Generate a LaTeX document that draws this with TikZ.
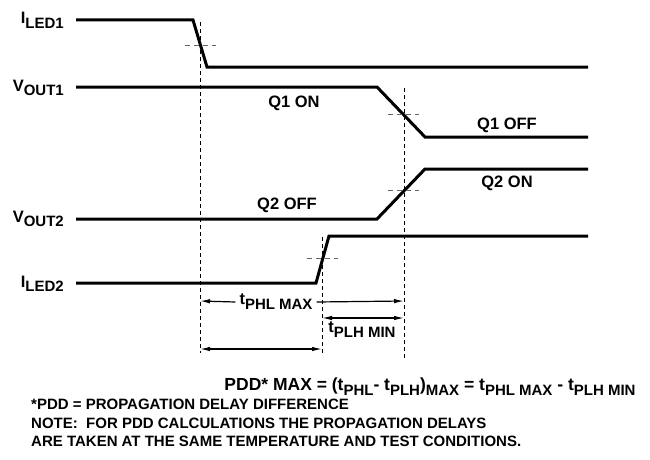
\documentclass[tikz,border=0pt]{standalone}
\usepackage{fontspec}
\setmainfont{Liberation Sans}
\usetikzlibrary{arrows.meta, positioning, calc}
\tikzset{
  % signal traces
  trace/.style={line width=3pt, line join=miter},
  % dashed timing guides
  guide/.style={dash pattern=on 4pt off 3pt, line width=0.8pt},
  threshold/.style={dash pattern=on 5pt off 4pt, line width=0.8pt, black!60},
  % delay arrows
  delay/.style={line width=1.2pt, -{Latex[length=10pt,width=4.5pt]}},
  delayboth/.style={line width=1.2pt, {Latex[length=10pt,width=4.5pt]}-{Latex[length=10pt,width=4.5pt]}},
  % texts
  signame/.style={font=\bfseries\fontsize{16.5}{18}\selectfont, inner sep=0pt, anchor=base east},
  statelbl/.style={font=\bfseries\fontsize{16.5}{18}\selectfont, inner sep=1pt},
  formula/.style={font=\bfseries\fontsize{17.5}{19}\selectfont, inner sep=0pt},
  notetext/.style={font=\bfseries\fontsize{15}{18.6}\selectfont, align=left, inner sep=0pt}
}
\newcommand{\subtx}[1]{\raisebox{-0.3em}{\fontsize{15}{16}\selectfont #1}}

\begin{document}
\begin{tikzpicture}[x=1pt, y=-1pt]
  \useasboundingbox (0,0) rectangle (650,460);

  %% -- signal names --
  \node[signame] (iledA) at (64,24)  {I\subtx{LED1}};
  \node[signame] (voutA) at (64,91)  {V\subtx{OUT1}};
  \node[signame] (voutB) at (64,222) {V\subtx{OUT2}};
  \node[signame] (iledB) at (64,287) {I\subtx{LED2}};

  %% -- traces --
  \draw[trace] (76,20)  -- (193,20)  -- (207,67)  -- (588,67);
  \draw[trace] (76,87)  -- (377,87)  -- (425,137) -- (588,137);
  \draw[trace] (76,219) -- (377,219) -- (425,169) -- (588,169);
  \draw[trace] (76,283) -- (316,283) -- (329,236) -- (588,236);

  %% -- 50% points --
  \coordinate (midA) at (200,45);
  \coordinate (midB) at (404,114);
  \coordinate (midC) at (404,190);
  \coordinate (midD) at (322,258);
  \draw[threshold] ($(midA)+(-15,0)$) -- ($(midA)+(16,0)$);
  \draw[threshold] ($(midB)+(-16,0)$) -- ($(midB)+(15,0)$);
  \draw[threshold] ($(midC)+(-16,0)$) -- ($(midC)+(15,0)$);
  \draw[threshold] ($(midD)+(-15,0)$) -- ($(midD)+(16,0)$);

  %% -- vertical guides --
  \coordinate (gA) at (200,353);
  \coordinate (gB) at (404,358);
  \coordinate (gC) at (322,355);
  \draw[guide] (200,22)  -- (gA);
  \draw[guide] (404,88)  -- (gB);
  \draw[guide] (322,237) -- (gC);

  %% -- states --
  \node[statelbl] (q1on)  at (294,103) {Q1 ON};
  \node[statelbl] (q1off) at (507,125) {Q1 OFF};
  \node[statelbl] (q2on)  at (507,183) {Q2 ON};
  \node[statelbl] (q2off) at (287,205) {Q2 OFF};

  %% -- delays --
  \node[statelbl, inner sep=4pt] (tphl) at (276,302) {t\subtx{PHL MAX}};
  \draw[delay] (tphl.west) -- (200,301);
  \draw[delay] (tphl.east) -- (404,301);
  \coordinate (plhL) at (322,318);
  \coordinate (plhR) at (404,318);
  \draw[delayboth] (plhL) -- (plhR);
  \node[statelbl] (tplh) at (362,330) {t\subtx{PLH MIN}};
  \coordinate (pddL) at (200,349);
  \coordinate (pddR) at (322,349);
  \draw[delayboth] (pddL) -- (pddR);
  \node[formula] (pdd) at (430,387)
    {PDD* MAX = (t\subtx{PHL}- t\subtx{PLH})\subtx{MAX} = t\subtx{PHL MAX} - t\subtx{PLH MIN}};

  %% -- notes --
  \node[notetext, anchor=north west] (notes) at (31,399)
    {*PDD = PROPAGATION DELAY DIFFERENCE\\
     NOTE:\ \ FOR PDD CALCULATIONS THE PROPAGATION DELAYS\\
     ARE TAKEN AT THE SAME TEMPERATURE AND TEST CONDITIONS.};
\end{tikzpicture}
\end{document}
